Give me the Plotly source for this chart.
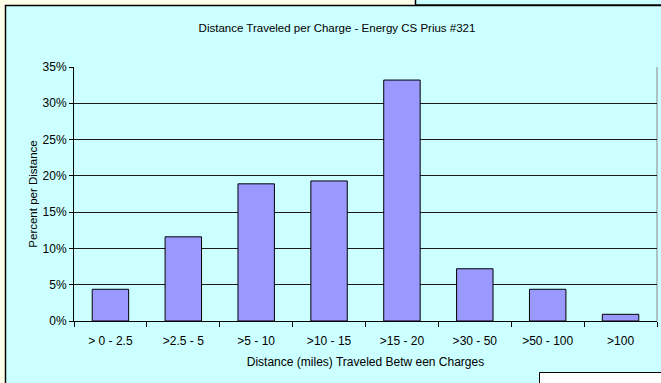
import plotly.graph_objects as go

# Share of charges by distance band
categories = ["> 0 - 2.5", ">2.5 - 5", ">5 - 10", ">10 - 15", ">15 - 20",
              ">30 - 50", ">50 - 100", ">100"]
share = [0.0437, 0.116, 0.189, 0.193, 0.332, 0.072, 0.0437, 0.0092]
y_ticks = [0, 0.05, 0.10, 0.15, 0.20, 0.25, 0.30, 0.35]

W, H = 661, 383
L, R, T, B = 74, 4, 67, 62
PW, PH = W - L - R, H - T - B


def px(x):
    return (x - L) / PW


def py(y):
    return 1 - (y - T) / PH


FONT = "Arial, Liberation Sans, sans-serif"
CYAN = "#CCFFFF"
PAPER = "#FFFDE8"

fig = go.Figure(
    go.Bar(
        x=categories,
        y=share,
        marker=dict(color="#9999FF", line=dict(color="#000000", width=1)),
        hoverinfo="x+y",
    )
)

shapes = [
    # main chart panel
    dict(type="rect", xref="paper", yref="paper", layer="below",
         x0=px(5.5), x1=px(662), y0=py(385), y1=py(5.5),
         fillcolor=CYAN, line=dict(color="#000000", width=1.5)),
    # neighbouring panel peeking in at the top right
    dict(type="rect", xref="paper", yref="paper", layer="below",
         x0=px(415.5), x1=px(662), y0=py(5), y1=py(-5),
         fillcolor=CYAN, line=dict(color="#000000", width=1.5)),
    # white box at the bottom right
    dict(type="rect", xref="paper", yref="paper", layer="above",
         x0=px(539.5), x1=px(662), y0=py(390), y1=py(372.5),
         fillcolor="#FFFFFF", line=dict(color="#000000", width=1)),
    # plot area right edge
    dict(type="line", xref="paper", yref="paper", layer="below",
         x0=1, x1=1, y0=0, y1=1, line=dict(color="#888888", width=1)),
]

fig.update_layout(
    width=W, height=H,
    margin=dict(l=L, r=R, t=T, b=B, pad=0),
    paper_bgcolor=PAPER,
    plot_bgcolor="rgba(0,0,0,0)",
    bargap=0.5,
    showlegend=False,
    font=dict(family=FONT, size=12, color="#000000"),
    title=dict(text="Distance Traveled per Charge - Energy CS Prius #321",
               xref="container", x=337 / W, xanchor="center",
               yref="container", y=1 - 28 / H, yanchor="middle",
               font=dict(family=FONT, size=11.5, color="#000000")),
    shapes=shapes,
    xaxis=dict(
        type="category",
        showline=True, linecolor="#000000", linewidth=1,
        ticks="outside", tickson="boundaries", ticklen=5,
        tickcolor="#000000", tickwidth=1,
        ticklabelstandoff=9,
        showgrid=False,
        tickfont=dict(family=FONT, size=12),
        title=dict(text="Distance (miles) Traveled Betw een Charges",
                   font=dict(family=FONT, size=12), standoff=10),
    ),
    yaxis=dict(
        range=[0, 0.35],
        tickvals=y_ticks,
        tickformat=".0%",
        showline=True, linecolor="#000000", linewidth=1,
        ticks="outside", ticklen=4, tickcolor="#000000",
        showgrid=True, gridcolor="#1a1a1a", gridwidth=1,
        zeroline=False,
        tickfont=dict(family=FONT, size=12),
        title=dict(text="Percent per Distance",
                   font=dict(family=FONT, size=11.5), standoff=2),
    ),
)

fig.write_html("out.html")
